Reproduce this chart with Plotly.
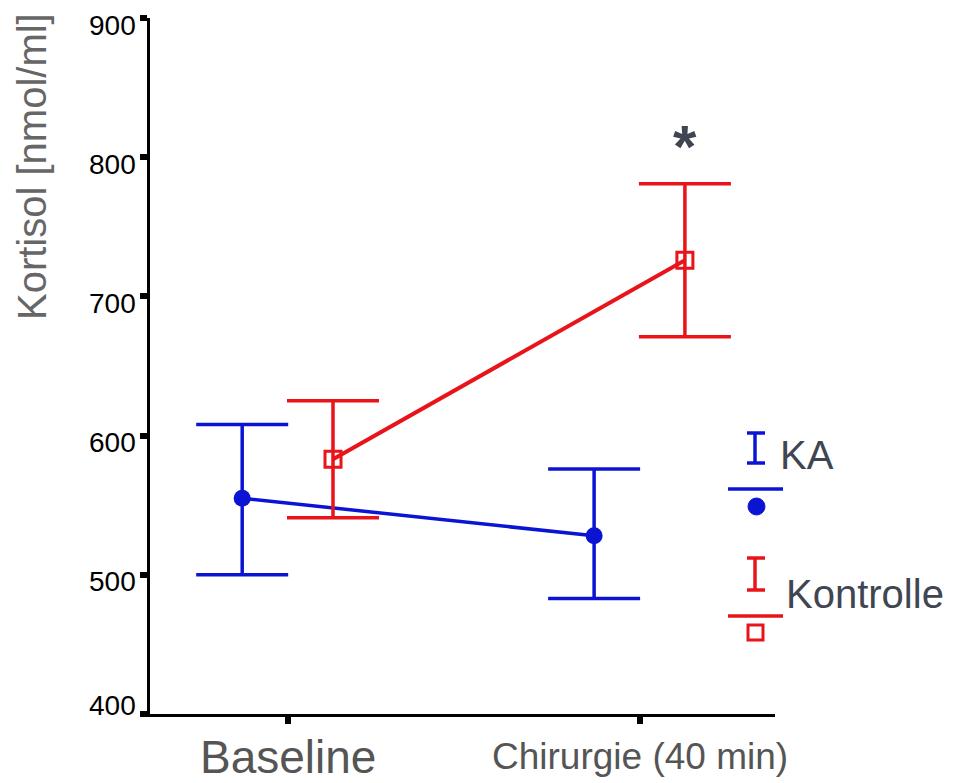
import plotly.graph_objects as go

# ---- data ----
categories = ["Baseline", "Chirurgie (40 min)"]
cat_pos = [0, 1]
ka_mean = [555, 528]
ka_err_up = [53, 48]
ka_err_down = [55, 45]
kon_mean = [583, 726]
kon_err_up = [42, 55]
kon_err_down = [42, 55]
offset_ka = -0.13
offset_kon = 0.128
y_ticks = [400, 500, 600, 700, 800, 900]

BLUE = "#0c14d4"
RED = "#e8141a"
TXT = "#404552"
FONT = "Liberation Sans, Arial, sans-serif"

# page body has an 8px margin: work in screenshot pixels and subtract it
OFF = 8
W, H = 959, 783
X_LEFT, X_RIGHT, Y_TOP, Y_BOT = 150, 775, 18, 714  # axis box in screenshot px
L = X_LEFT - OFF
T = Y_TOP - OFF
R = W - (X_RIGHT - OFF)
B = H - (Y_BOT - OFF)
PW, PH = X_RIGHT - X_LEFT, Y_BOT - Y_TOP


def px(xp):
    return (xp - X_LEFT) / PW


def py(yp):
    return (Y_BOT - yp) / PH


fig = go.Figure()

fig.add_trace(go.Scatter(
    x=[c + offset_ka for c in cat_pos], y=ka_mean, mode="lines+markers",
    line=dict(color=BLUE, width=3.5),
    marker=dict(symbol="circle", size=17, color=BLUE),
    error_y=dict(type="data", array=ka_err_up, arrayminus=ka_err_down,
                 color=BLUE, thickness=3.5, width=46),
    showlegend=False, cliponaxis=False))

fig.add_trace(go.Scatter(
    x=[c + offset_kon for c in cat_pos], y=kon_mean, mode="lines+markers",
    line=dict(color=RED, width=4),
    marker=dict(symbol="square-open", size=16, color=RED, line=dict(width=3, color=RED)),
    error_y=dict(type="data", array=kon_err_up, arrayminus=kon_err_down,
                 color=RED, thickness=3.5, width=46),
    showlegend=False, cliponaxis=False))

shapes = []


def seg(x0, y0, x1, y1, color, w=3.5):
    shapes.append(dict(type="line", xref="paper", yref="paper",
                       x0=px(x0), y0=py(y0), x1=px(x1), y1=py(y1),
                       line=dict(color=color, width=w)))


# legend KA
seg(755, 433, 755, 463, BLUE)
seg(747, 433, 765, 433, BLUE)
seg(747, 463, 765, 463, BLUE)
seg(728, 489, 783, 489, BLUE)
shapes.append(dict(type="circle", xref="paper", yref="paper",
                   x0=px(748), x1=px(765), y0=py(498), y1=py(515),
                   fillcolor=BLUE, line=dict(color=BLUE, width=1)))
# legend Kontrolle
seg(755, 558, 755, 590, RED)
seg(747, 558, 765, 558, RED)
seg(747, 590, 765, 590, RED)
seg(728, 616, 783, 616, RED)
shapes.append(dict(type="rect", xref="paper", yref="paper",
                   x0=px(748), x1=px(763), y0=py(625), y1=py(640),
                   fillcolor="white", line=dict(color=RED, width=3)))

annotations = [
    dict(text="KA", xref="paper", yref="paper", x=px(778), y=py(455),
         xanchor="left", yanchor="middle", showarrow=False,
         font=dict(family=FONT, size=40, color=TXT)),
    dict(text="Kontrolle", xref="paper", yref="paper", x=px(784), y=py(594),
         xanchor="left", yanchor="middle", showarrow=False,
         font=dict(family=FONT, size=40, color=TXT)),
    dict(text="<b>*</b>", xref="x", yref="paper", x=1 + offset_kon, y=py(146),
         xanchor="center", yanchor="middle", showarrow=False,
         font=dict(family=FONT, size=60, color=TXT)),
    dict(text="Kortisol [nmol/ml]", xref="paper", yref="paper", x=px(32), y=py(167),
         xanchor="center", yanchor="middle", textangle=-90, showarrow=False,
         font=dict(family=FONT, size=40, color="#666666")),
    dict(text=categories[0], xref="x", yref="paper", x=cat_pos[0], y=py(757),
         xanchor="center", yanchor="middle", showarrow=False,
         font=dict(family=FONT, size=46, color="#555555")),
    dict(text=categories[1], xref="x", yref="paper", x=cat_pos[1], y=py(756),
         xanchor="center", yanchor="middle", showarrow=False,
         font=dict(family=FONT, size=37, color="#555555")),
]

# y tick labels: sit slightly below their ticks, except the lowest one (above)
for v in y_ticks:
    annotations.append(dict(
        text=str(v), xref="paper", yref="y", x=px(138), y=v,
        yshift=(9 if v == y_ticks[0] else -7),
        xanchor="right", yanchor="middle", showarrow=False,
        font=dict(family=FONT, size=28, color="black")))

fig.update_layout(
    width=W, height=H,
    margin=dict(l=L, r=R, t=T, b=B, autoexpand=False),
    paper_bgcolor="white", plot_bgcolor="white",
    shapes=shapes, annotations=annotations,
    font=dict(family=FONT),
    xaxis=dict(range=[-0.392, 1.384], tickvals=cat_pos, showticklabels=False,
               showgrid=False, zeroline=False, showline=True, linecolor="black",
               linewidth=3, ticks="outside", ticklen=7, tickwidth=6, tickcolor="black"),
    yaxis=dict(range=[400, 900], tickvals=y_ticks, showticklabels=False,
               showgrid=False, zeroline=False, showline=True, linecolor="black",
               linewidth=3, ticks="outside", ticklen=7, tickwidth=6, tickcolor="black"),
)

fig.write_html("out.html")
